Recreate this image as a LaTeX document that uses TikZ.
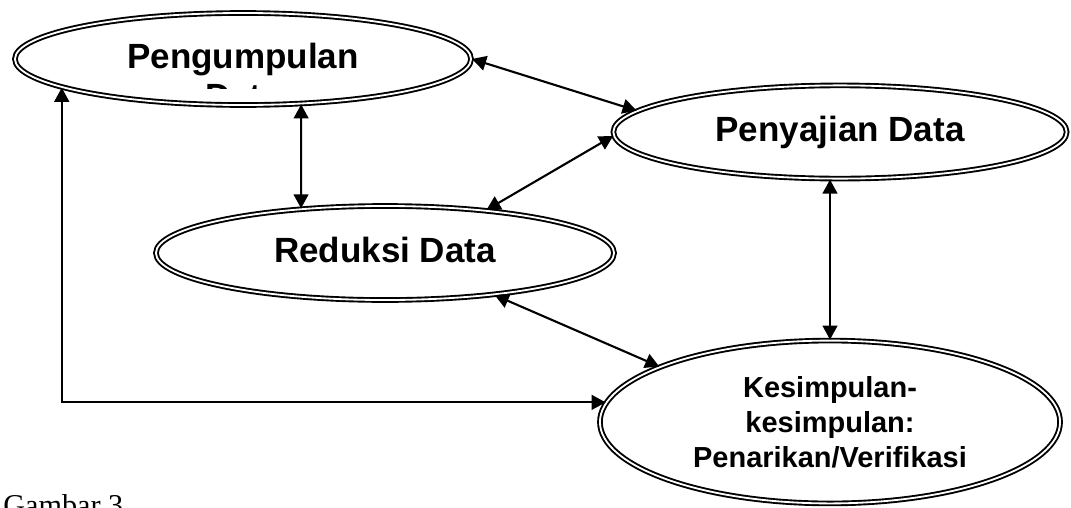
\documentclass[tikz,border=0pt]{standalone}
\usepackage{fontspec}
\setmainfont{Liberation Serif}
\setsansfont{Liberation Sans}
\usetikzlibrary{shapes.geometric,arrows.meta}

\begin{document}
\begin{tikzpicture}[x=0.025cm,y=-0.025cm]
\tikzstyle{proses}=[ellipse,draw,double,line width=1.35pt,double distance=1.3pt,inner sep=0pt,font=\sffamily\bfseries\fontsize{24.9}{28.6}\selectfont]
\tikzstyle{satubaris}=[text height=0.625cm,text depth=0.15cm]
\tikzstyle{panah}=[{Triangle[length=10pt,width=10.5pt]}-{Triangle[length=10pt,width=10.5pt]},line width=1.5pt]
\useasboundingbox (0,0) rectangle (1071,507);
\node [proses,satubaris,minimum width=11.4cm,minimum height=2.3cm] (kumpul) at (243,59) {Pengumpulan};
\node [proses,satubaris,minimum width=11.33cm,minimum height=2.33cm] (saji) at (840,132) {Penyajian Data};
\node [proses,satubaris,minimum width=11.45cm,minimum height=2.35cm] (reduksi) at (385,253) {Reduksi Data};
\node [proses,align=center,minimum width=11.5cm,minimum height=4.07cm,font=\sffamily\bfseries\fontsize{20.6}{24.9}\selectfont] (simpul) at (830,422) {Kesimpulan-\\kesimpulan:\\Penarikan/Verifikasi};
% baris kedua terpotong
\begin{scope}
\clip (150,70) rectangle (340,88);
\node [anchor=base,inner sep=0pt,font=\sffamily\bfseries\fontsize{24.9}{28.6}\selectfont] (data) at (243,108) {Data};
\end{scope}
\draw [panah] (kumpul.east) -- (saji.174);
\draw [panah] (kumpul.-38) -- (reduksi.152);
\draw [panah] (reduksi.23) -- (saji.181);
\draw [panah] (saji.south -| simpul.north) -- (simpul.north);
\draw [panah] (reduksi.-21) -- (simpul.162);
\draw [panah] (simpul.175) -| (kumpul.-171);
\node [anchor=base west,inner sep=0pt,font=\fontsize{21.5}{25}\selectfont] (gambar) at (3,515) {Gambar 3};
\end{tikzpicture}
\end{document}
